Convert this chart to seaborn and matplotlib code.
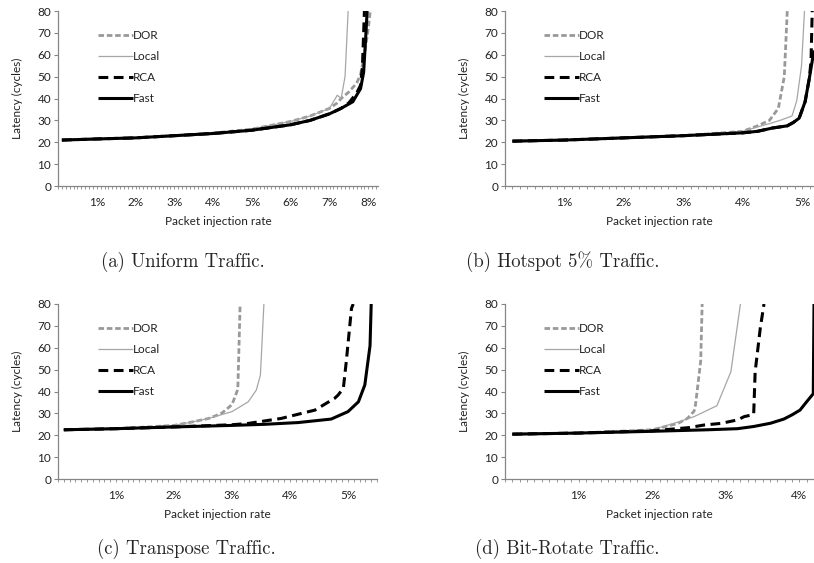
import matplotlib
matplotlib.use("Agg")
import matplotlib.pyplot as plt
from matplotlib.ticker import MultipleLocator, FuncFormatter
import seaborn as sns

# Latency (cycles) vs packet injection rate (%)

# (a) Uniform traffic
uni_dor_x = [0.1, 1, 2, 3, 4, 5, 6, 6.5, 7, 7.2, 7.3, 7.5, 7.7, 7.8, 7.9, 7.95, 8.0, 8.05]
uni_dor_y = [21, 21.5, 22, 23, 24.2, 26, 29.5, 32, 35.5, 38, 40, 43, 47, 51, 60, 66, 72, 80]
uni_local_x = [0.1, 1, 2, 3, 4, 5, 6, 6.5, 7, 7.2, 7.3, 7.4, 7.48]
uni_local_y = [21, 21.5, 22, 23, 24.2, 26, 29.5, 32, 35.5, 41.5, 40, 50, 80]
uni_rca_x = [0.1, 1, 2, 3, 4, 5, 6, 6.5, 7, 7.3, 7.5, 7.7, 7.8, 7.85, 7.9]
uni_rca_y = [21, 21.5, 22, 23, 24, 25.5, 28, 30, 33, 35.5, 38, 42.5, 46, 55, 80]
uni_fast_x = [0.1, 1, 2, 3, 4, 5, 6, 6.5, 7, 7.3, 7.6, 7.8, 7.88, 7.93, 7.97]
uni_fast_y = [21, 21.5, 22, 23, 24, 25.5, 28, 30, 33, 35.5, 38.5, 44.5, 52, 67, 80]

# (b) Hotspot 5% traffic
hot_dor_x = [0.125, 1, 2, 3, 4, 4.25, 4.45, 4.6, 4.7, 4.75]
hot_dor_y = [20.5, 21, 22, 23, 25, 27.5, 30, 35.5, 50, 80]
hot_local_x = [0.125, 1, 2, 3, 4, 4.25, 4.45, 4.65, 4.83, 4.91, 4.99, 5.04]
hot_local_y = [20.5, 21, 22, 23, 25, 27, 28.5, 30.2, 32, 39, 55, 80]
hot_rca_x = [0.125, 1, 2, 3, 4, 4.25, 4.5, 4.75, 4.85, 4.95, 5.05, 5.12, 5.15, 5.17]
hot_rca_y = [20.5, 21, 22, 23, 24.3, 25, 26.5, 27.5, 29, 31, 38.5, 49, 57, 80]
hot_fast_x = [0.125, 1, 2, 3, 4, 4.25, 4.5, 4.75, 4.85, 4.95, 5.05, 5.12, 5.2]
hot_fast_y = [20.5, 21, 22, 23, 24.3, 25, 26.5, 27.5, 29, 31, 38.5, 49, 62]

# (c) Transpose traffic
tra_dor_x = [0.1, 1, 2, 2.3, 2.6, 2.82, 3.0, 3.1, 3.12, 3.14]
tra_dor_y = [22.5, 23, 24.5, 26, 27.7, 30, 34, 41, 60, 80]
tra_local_x = [0.1, 1, 2, 2.3, 2.6, 3.0, 3.28, 3.42, 3.49, 3.55]
tra_local_y = [22.5, 23, 24.5, 26, 27.7, 30.8, 35.3, 40.7, 47.5, 80]
tra_rca_x = [0.1, 1, 2, 3, 3.28, 3.85, 4.43, 4.77, 4.83, 4.92, 4.97, 5.06, 5.09]
tra_rca_y = [22.5, 23, 23.8, 24.8, 25.4, 27.7, 31.5, 36.9, 38.4, 41.5, 53.6, 78, 80]
tra_fast_x = [0.1, 1, 2, 3, 3.56, 4.14, 4.71, 5.0, 5.18, 5.29, 5.38, 5.4]
tra_fast_y = [22.5, 23, 23.8, 24.5, 25, 25.8, 27.4, 30.8, 35.3, 43, 61, 80]

# (d) Bit-rotate traffic
bit_dor_x = [0.1, 1, 2, 2.35, 2.48, 2.57, 2.59, 2.66, 2.68]
bit_dor_y = [20.5, 21, 22.5, 25.4, 27.7, 31, 34, 54, 80]
bit_local_x = [0.1, 1, 2, 2.35, 2.57, 2.88, 3.07, 3.2]
bit_local_y = [20.5, 21, 22.5, 26, 28.5, 33.5, 49, 80]
bit_rca_x = [0.1, 1, 2, 2.5, 2.71, 2.93, 3.16, 3.25, 3.38, 3.4, 3.47, 3.52]
bit_rca_y = [20.5, 21, 22, 23.5, 24.7, 25.4, 27, 28.5, 29.5, 49, 69, 80]
bit_fast_x = [0.1, 1, 2, 2.75, 3.16, 3.38, 3.61, 3.79, 3.9, 4.01, 4.1, 4.19, 4.2]
bit_fast_y = [20.5, 21, 21.8, 22.5, 23, 24, 25.5, 27.4, 29.3, 31.5, 35.3, 39, 80]

captions = ["(a) Uniform Traffic.", "(b) Hotspot 5% Traffic.",
            "(c) Transpose Traffic.", "(d) Bit-Rotate Traffic."]
x_max = [8.25, 5.2, 5.5, 4.2]
x_step = [0.1, 0.125, 0.1, 0.1]

panels = [
    [(uni_dor_x, uni_dor_y), (uni_local_x, uni_local_y), (uni_rca_x, uni_rca_y), (uni_fast_x, uni_fast_y)],
    [(hot_dor_x, hot_dor_y), (hot_local_x, hot_local_y), (hot_rca_x, hot_rca_y), (hot_fast_x, hot_fast_y)],
    [(tra_dor_x, tra_dor_y), (tra_local_x, tra_local_y), (tra_rca_x, tra_rca_y), (tra_fast_x, tra_fast_y)],
    [(bit_dor_x, bit_dor_y), (bit_local_x, bit_local_y), (bit_rca_x, bit_rca_y), (bit_fast_x, bit_fast_y)],
]

names = ["DOR", "Local", "RCA", "Fast"]
styles = [
    dict(color="#999999", lw=2.0, dashes=(2.0, 1.0)),
    dict(color="#a6a6a6", lw=0.9),
    dict(color="black", lw=2.2, dashes=(3.2, 1.8)),
    dict(color="black", lw=2.2),
]

sns.set_style("white")
plt.rcParams["font.family"] = ["Lato", "DejaVu Sans"]

W, H = 814, 563
fig = plt.figure(figsize=(W / 100, H / 100), dpi=100)

# axes boxes in pixels: left, top, width, height
boxes = [(58, 11, 320, 175), (505, 11, 309, 175), (58, 304, 319, 175), (505, 304, 309, 175)]
cap_pos = [(183, 262), (563, 262), (186, 549), (567, 549)]

axis_grey = "#868686"
fs = 8.5

for i, (l, t, w, h) in enumerate(boxes):
    ax = fig.add_axes([l / W, 1 - (t + h) / H, w / W, h / H])
    for (xs, ys), name, st in zip(panels[i], names, styles):
        st = dict(st)
        dashes = st.pop("dashes", None)
        sns.lineplot(x=xs, y=ys, ax=ax, label=name, color=st["color"], linewidth=st["lw"],
                     sort=False, estimator=None)
        if dashes is not None:
            ax.lines[-1].set_dashes(dashes)
        ax.lines[-1].set_solid_capstyle("butt")
        ax.lines[-1].set_dash_capstyle("butt")
    ax.set_xlim(0, x_max[i])
    ax.set_ylim(0, 80)
    ax.yaxis.set_major_locator(MultipleLocator(10))
    ax.xaxis.set_major_locator(MultipleLocator(1))
    ax.xaxis.set_minor_locator(MultipleLocator(x_step[i]))
    ax.xaxis.set_major_formatter(FuncFormatter(lambda v, p: "" if v == 0 else f"{v:.0f}%"))
    sns.despine(ax=ax)
    for s in ["left", "bottom"]:
        ax.spines[s].set_color(axis_grey)
        ax.spines[s].set_linewidth(0.9)
    ax.tick_params(axis="y", which="major", left=True, length=3, width=0.8, color=axis_grey,
                   labelsize=fs, pad=2, labelcolor="#222222")
    ax.tick_params(axis="x", which="both", bottom=True, length=2, width=0.6, color=axis_grey,
                   labelsize=fs, pad=6, labelcolor="#222222")
    ax.set_xlabel("Packet injection rate", fontsize=fs, labelpad=6, color="#222222")
    ax.set_ylabel("Latency (cycles)", fontsize=fs, labelpad=10, color="#222222")
    leg = ax.legend(loc="upper left", bbox_to_anchor=(0.11, 0.92), frameon=False, fontsize=fs,
                    handlelength=3.0, handletextpad=0.0, labelspacing=0.85, borderaxespad=0)
    for txt in leg.get_texts():
        txt.set_color("#222222")
    cx, cy = cap_pos[i]
    fig.text(cx / W, 1 - cy / H, captions[i], ha="center", va="center", fontsize=13.5,
             family=["cmr10", "DejaVu Serif"])

fig.savefig("out.png", dpi=100)
